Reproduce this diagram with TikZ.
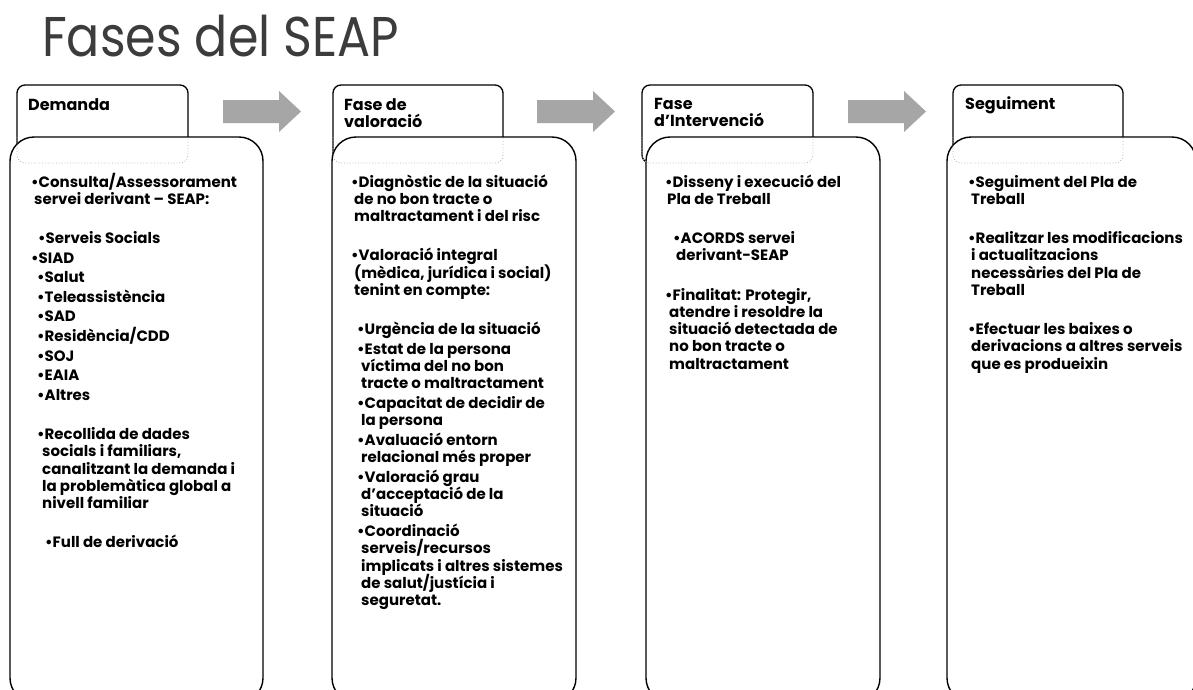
\documentclass[tikz,border=0pt]{standalone}
\usepackage{fontspec}
\setmainfont{Poppins}
\usepackage{graphicx}
\definecolor{arrowgray}{HTML}{A6A6A6}
\definecolor{titlegray}{HTML}{3C3C3C}
\definecolor{dotgray}{HTML}{B4B4B4}
\newcommand{\bodysize}{\fontsize{15pt}{17.3pt}\selectfont}
\newcommand{\headsize}{\fontsize{16pt}{17.3pt}\selectfont}
\newcommand{\bl}[2]{\hbox{\hskip#1pt\makebox[7.5pt][l]{\textbullet}#2}}
\newcommand{\tl}[2]{\hbox{\hskip#1pt#2}}
\newcommand{\ps}{\vskip2.3pt}
\newcommand{\blank}{\vskip21.9pt}
\newcommand{\colbox}[1]{\vtop{\baselineskip=17.3pt\lineskiplimit=-20pt\lineskip=0pt #1}}
\tikzset{
  mainbox/.style={draw=black, line width=1.4pt, fill=white, rounded corners=24pt,
    anchor=north west, inner sep=0pt, outer sep=0pt, minimum height=565pt},
  headbox/.style={draw=black, line width=1.3pt, rounded corners=8pt,
    anchor=north west, inner sep=0pt, outer sep=0pt, minimum height=78pt},
  hidden/.style={draw=dotgray, line width=0.8pt, dotted, rounded corners=8pt},
  blockarrow/.style={fill=arrowgray},
  headtext/.style={anchor=base west, inner sep=0pt, font=\headsize\bfseries},
  bodytext/.style={anchor=base west, inner sep=0pt, font=\bodysize\bfseries},
  titletext/.style={anchor=base west, inner sep=0pt, text=titlegray,
    font=\fontsize{56pt}{60pt}\selectfont},
}
\begin{document}
\begin{tikzpicture}[x=1pt,y=-1pt]
\useasboundingbox (0,0) rectangle (1193,689);
\clip (0,0) rectangle (1193,689);
\fill[white] (0,0) rectangle (1193,689);

\node[titletext] (title) at (42,56) {\scalebox{0.877}[1]{Fases del SEAP}};

% arrows
\foreach \ax in {223,537,848}{
  \fill[blockarrow] (\ax,100) -- (\ax+56,100) -- (\ax+56,91) -- (\ax+78,111.5)
    -- (\ax+56,132) -- (\ax+56,123) -- (\ax,123) -- cycle;
}

% header boxes
\node[headbox, minimum width=171pt] (h1) at (17,85) {};
\node[headbox, minimum width=170pt] (h2) at (333,85) {};
\node[headbox, minimum width=171pt] (h3) at (642,85) {};
\node[headbox, minimum width=170pt] (h4) at (953,85) {};

% main boxes
\node[mainbox, minimum width=253pt] (b1) at (10,137) {};
\node[mainbox, minimum width=244pt] (b2) at (332,137) {};
\node[mainbox, minimum width=234pt] (b3) at (646,137) {};
\node[mainbox, minimum width=249pt] (b4) at (947,137) {};

% hidden parts of header boxes
\foreach \i in {1,2,3,4}{
  \draw[hidden] (h\i.west |- b\i.north) |- (h\i.south) -| (h\i.east |- b\i.north);
}

% header texts
\node[headtext] (t1) at (28,110) {Demanda};
\node[headtext] (t2) at (344,110) {\colbox{\tl{0}{Fase de}\tl{0}{valoració}}};
\node[headtext] (t3) at (654,109) {\colbox{\tl{0}{Fase}\tl{0}{d’Intervenció}}};
\node[headtext] (t4) at (965,109) {Seguiment};

% body texts
\node[bodytext] (c1) at (31,187) {\colbox{%
\bl{0}{Consulta/Assessorament}
\tl{3}{servei derivant – SEAP:}
\blank
\bl{7}{Serveis Socials}\ps
\bl{0}{SIAD}\ps
\bl{6}{Salut}\ps
\bl{6}{Teleassistència}\ps
\bl{6}{SAD}\ps
\bl{6}{Residència/CDD}\ps
\bl{6}{SOJ}\ps
\bl{6}{EAIA}\ps
\bl{6}{Altres}
\blank
\bl{6}{Recollida de dades}
\tl{11}{socials i familiars,}
\tl{11}{canalitzant la demanda i}
\tl{11}{la problemàtica global a}
\tl{11}{nivell familiar}
\blank
\bl{14}{Full de derivació}}};

\node[bodytext] (c2) at (351,187) {\colbox{%
\bl{0}{Diagnòstic de la situació}
\tl{3}{de no bon tracte o}
\tl{3}{maltractament i del risc}
\blank
\bl{0}{Valoració integral}
\tl{3}{(mèdica, jurídica i social)}
\tl{3}{tenint en compte:}
\blank
\bl{6}{Urgència de la situació}\ps
\bl{6}{Estat de la persona}
\tl{10}{víctima del no bon}
\tl{10}{tracte o maltractament}\ps
\bl{6}{Capacitat de decidir de}
\tl{10}{la persona}\ps
\bl{6}{Avaluació entorn}
\tl{10}{relacional més proper}\ps
\bl{6}{Valoració grau}
\tl{10}{d’acceptació de la}
\tl{10}{situació}\ps
\bl{6}{Coordinació}
\tl{10}{serveis/recursos}
\tl{10}{implicats i altres sistemes}
\tl{10}{de salut/justícia i}
\tl{10}{seguretat.}}};

\node[bodytext] (c3) at (665,187) {\colbox{%
\bl{0}{Disseny i execució del}
\tl{2}{Pla de Treball}
\blank
\bl{8}{ACORDS servei}
\tl{11}{derivant-SEAP}
\blank
\bl{0}{Finalitat: Protegir,}
\tl{4}{atendre i resoldre la}
\tl{4}{situació detectada de}
\tl{4}{no bon tracte o}
\tl{4}{maltractament}}};

\node[bodytext] (c4) at (968,187) {\colbox{%
\bl{0}{Seguiment del Pla de}
\tl{3}{Treball}
\blank
\bl{0}{Realitzar les modificacions}
\tl{3}{i actualitzacions}
\tl{3}{necessàries del Pla de}
\tl{3}{Treball}
\blank
\bl{0}{Efectuar les baixes o}
\tl{3}{derivacions a altres serveis}
\tl{3}{que es produeixin}}};
\end{tikzpicture}
\end{document}
